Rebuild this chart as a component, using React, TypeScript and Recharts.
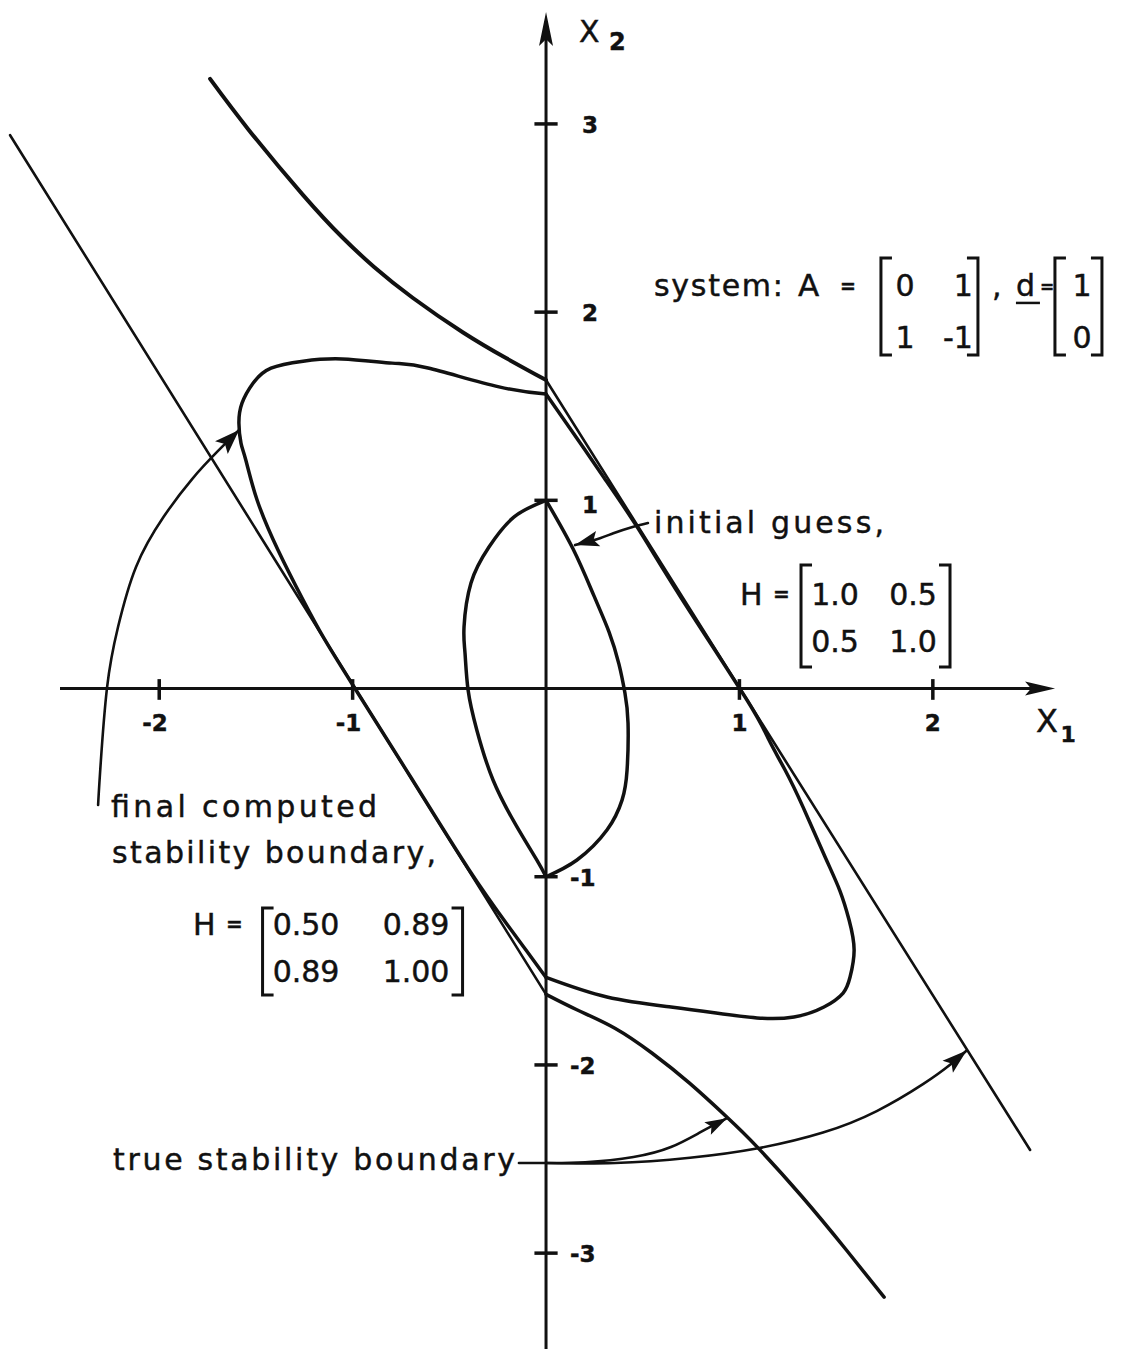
import React from 'react';
import { ScatterChart, Scatter, XAxis, YAxis, ReferenceLine, ReferenceDot } from 'recharts';

type Pt = { x: number; y: number };

// ---- true stability boundary (two straight pieces + two curved pieces) ----
const trueUpperCurve: Pt[] = [
  { x: -1.737, y: 3.239 },
  { x: -1.536, y: 2.967 },
  { x: -1.256, y: 2.622 },
  { x: -1.055, y: 2.399 },
  { x: -0.889, y: 2.24 },
  { x: -0.688, y: 2.075 },
  { x: -0.429, y: 1.892 },
  { x: -0.207, y: 1.756 },
  { x: 0, y: 1.639 },
];
const trueUpperLine: Pt[] = [
  { x: 0, y: 1.639 },
  { x: 2.503, y: -2.452 },
];
const trueLowerLine: Pt[] = [
  { x: -2.771, y: 2.94 },
  { x: 0, y: -1.625 },
];
const trueLowerCurve: Pt[] = [
  { x: 0, y: -1.625 },
  { x: 0.162, y: -1.708 },
  { x: 0.356, y: -1.805 },
  { x: 0.549, y: -1.938 },
  { x: 0.742, y: -2.097 },
  { x: 0.936, y: -2.278 },
  { x: 1.09, y: -2.434 },
  { x: 1.323, y: -2.699 },
  { x: 1.555, y: -2.986 },
  { x: 1.748, y: -3.234 },
];

// ---- final computed boundary, H = [0.50 0.89; 0.89 1.00] ----
const finalLeft: Pt[] = [
  { x: 0, y: 1.565 },
  { x: -0.243, y: 1.603 },
  { x: -0.61, y: 1.703 },
  { x: -0.796, y: 1.729 },
  { x: -1.055, y: 1.751 },
  { x: -1.256, y: 1.739 },
  { x: -1.422, y: 1.702 },
  { x: -1.515, y: 1.622 },
  { x: -1.572, y: 1.516 },
  { x: -1.588, y: 1.41 },
  { x: -1.577, y: 1.303 },
  { x: -1.552, y: 1.213 },
  { x: -1.494, y: 1.002 },
  { x: -1.386, y: 0.736 },
  { x: -1.256, y: 0.47 },
  { x: -1.15, y: 0.27 },
  { x: -1.0, y: 0.02 },
  { x: -0.7, y: -0.47 },
  { x: -0.4, y: -0.96 },
  { x: -0.2, y: -1.255 },
  { x: -0.1, y: -1.395 },
  { x: 0, y: -1.535 },
];
const finalRight: Pt[] = [
  { x: 0, y: -1.535 },
  { x: 0.315, y: -1.639 },
  { x: 0.646, y: -1.692 },
  { x: 0.879, y: -1.724 },
  { x: 1.091, y: -1.75 },
  { x: 1.282, y: -1.745 },
  { x: 1.437, y: -1.692 },
  { x: 1.536, y: -1.618 },
  { x: 1.572, y: -1.533 },
  { x: 1.593, y: -1.389 },
  { x: 1.567, y: -1.23 },
  { x: 1.52, y: -1.076 },
  { x: 1.443, y: -0.895 },
  { x: 1.329, y: -0.63 },
  { x: 1.236, y: -0.433 },
  { x: 1.153, y: -0.274 },
  { x: 1.039, y: -0.061 },
  { x: 0.7, y: 0.48 },
  { x: 0.47, y: 0.86 },
  { x: 0.3, y: 1.12 },
  { x: 0.2, y: 1.27 },
  { x: 0.1, y: 1.417 },
  { x: 0, y: 1.565 },
];

// ---- initial guess, H = [1.0 0.5; 0.5 1.0] ----
const guessLeft: Pt[] = [
  { x: 0, y: 1.0 },
  { x: -0.165, y: 0.912 },
  { x: -0.295, y: 0.752 },
  { x: -0.388, y: 0.561 },
  { x: -0.424, y: 0.327 },
  { x: -0.419, y: 0.189 },
  { x: -0.403, y: -0.008 },
  { x: -0.358, y: -0.22 },
  { x: -0.274, y: -0.486 },
  { x: -0.151, y: -0.734 },
  { x: -0.048, y: -0.911 },
  { x: 0, y: -1.0 },
];
const guessRight: Pt[] = [
  { x: 0, y: -1.0 },
  { x: 0.16, y: -0.911 },
  { x: 0.315, y: -0.752 },
  { x: 0.393, y: -0.593 },
  { x: 0.419, y: -0.433 },
  { x: 0.424, y: -0.183 },
  { x: 0.408, y: -0.024 },
  { x: 0.377, y: 0.13 },
  { x: 0.326, y: 0.3 },
  { x: 0.248, y: 0.492 },
  { x: 0.14, y: 0.741 },
  { x: 0, y: 1.0 },
];

// ---- leader arrows from the notes ----
const finalArrow: Pt[] = [
  { x: -2.316, y: -0.619 },
  { x: -2.306, y: -0.449 },
  { x: -2.27, y: 0.003 },
  { x: -2.213, y: 0.327 },
  { x: -2.12, y: 0.646 },
  { x: -1.978, y: 0.911 },
  { x: -1.83, y: 1.113 },
  { x: -1.701, y: 1.257 },
  { x: -1.587, y: 1.374 },
];
const guessArrow: Pt[] = [
  { x: 0.527, y: 0.879 },
  { x: 0.443, y: 0.857 },
  { x: 0.348, y: 0.825 },
  { x: 0.279, y: 0.799 },
  { x: 0.15, y: 0.762 },
];
const trueStub: Pt[] = [
  { x: -0.14, y: -2.521 },
  { x: 0, y: -2.521 },
];
const trueArrowNear: Pt[] = [
  { x: 0, y: -2.521 },
  { x: 0.202, y: -2.517 },
  { x: 0.452, y: -2.489 },
  { x: 0.646, y: -2.436 },
  { x: 0.801, y: -2.356 },
  { x: 0.936, y: -2.283 },
];
const trueArrowFar: Pt[] = [
  { x: 0, y: -2.521 },
  { x: 0.357, y: -2.521 },
  { x: 0.744, y: -2.493 },
  { x: 1.089, y: -2.444 },
  { x: 1.432, y: -2.359 },
  { x: 1.71, y: -2.245 },
  { x: 1.949, y: -2.102 },
  { x: 2.089, y: -1.999 },
  { x: 2.175, y: -1.923 },
];

// ---- axes, ticks ----
const xAxisSpan = [-2.513, 2.632];
const yAxisSpan = [-3.51, 3.595];
const xTicks = [-2, -1, 1, 2];
const yTicks = [-3, -2, -1, 1, 2, 3];

// ---- matrices in the notes ----
const matA = [
  ['0', '1'],
  ['1', '-1'],
];
const vecD = ['1', '0'];
const hGuess = [
  ['1.0', '0.5'],
  ['0.5', '1.0'],
];
const hFinal = [
  ['0.50', '0.89'],
  ['0.89', '1.00'],
];

// ---- layout ----
const W = 1127;
const H = 1352;
const X_DOMAIN: [number, number] = [-2.8, 2.9];
const Y_DOMAIN: [number, number] = [-3.52, 3.6];
const MARGIN = { top: 11, right: 20.1, bottom: 1, left: 4.5 };
const SX = (W - MARGIN.left - MARGIN.right) / (X_DOMAIN[1] - X_DOMAIN[0]);
const SY = (H - MARGIN.top - MARGIN.bottom) / (Y_DOMAIN[1] - Y_DOMAIN[0]);

const INK = '#111';
const FONT = '"DejaVu Sans", "Liberation Sans", sans-serif';

const anchors = {
  system: { x: 0.558, y: 2.086 },
  guessText: { x: 0.558, y: 0.826 },
  guessH: { x: 1.003, y: 0.444 },
  finalText: { x: -2.249, y: -0.683 },
  finalH: { x: -1.825, y: -1.31 },
  trueText: { x: -2.239, y: -2.558 },
};

const noDot = () => <g />;

const curve = (key: string, data: Pt[], width: number, joint: 'natural' | 'linear' = 'natural') => (
  <Scatter
    key={key}
    data={data}
    fill={INK}
    line={{ stroke: INK, strokeWidth: width, strokeLinecap: 'round', strokeLinejoin: 'round' }}
    lineJointType={joint}
    shape={noDot}
    isAnimationActive={false}
  />
);

// filled arrowhead at the last point of a path, pointing along its last segment
const head = (key: string, pts: Pt[], len = 24, half = 8) => {
  const tip = pts[pts.length - 1];
  const from = pts[pts.length - 2];
  const ang = (Math.atan2(-(tip.y - from.y) * SY, (tip.x - from.x) * SX) * 180) / Math.PI;
  return (
    <ReferenceDot
      key={key}
      x={tip.x}
      y={tip.y}
      r={0}
      ifOverflow="visible"
      shape={(p: any) => (
        <polygon
          points={`0,0 ${-len},${-half} ${-len * 0.8},0 ${-len},${half}`}
          transform={`translate(${p.cx},${p.cy}) rotate(${ang})`}
          fill={INK}
        />
      )}
    />
  );
};

// lettering: regular weight with a hairline outline so strokes read a bit heavier
const txt = (x: number, y: number, s: string, size = 30, extra: any = {}) => (
  <text x={x} y={y} fontFamily={FONT} fontSize={size} fill={INK} stroke={INK} strokeWidth={0.45} {...extra}>
    {s}
  </text>
);

const bracket = (x: number, top: number, bottom: number, dir: 1 | -1) => (
  <path
    d={`M${x + dir * 11},${top} H${x} V${bottom} H${x + dir * 11}`}
    fill="none"
    stroke={INK}
    strokeWidth={3}
  />
);

const note = (key: string, at: Pt, content: React.ReactNode) => (
  <ReferenceDot
    key={key}
    x={at.x}
    y={at.y}
    r={0}
    ifOverflow="visible"
    shape={(p: any) => <g transform={`translate(${p.cx},${p.cy})`}>{content}</g>}
  />
);

const eq = (x: number, size: number, dy = -4) => txt(x, dy, '=', size, { fontWeight: 700 });

const systemNote = (
  <g>
    {txt(0, 0, 'system:', 30, { textLength: 129, lengthAdjust: 'spacing' })}
    {txt(144, 0, 'A', 31)}
    {eq(186, 19, -3)}
    {bracket(227, -38, 59, 1)}
    {bracket(324, -38, 59, -1)}
    {matA.map((row, i) => (
      <g key={i}>
        {txt(251, i * 52, row[0], 30, { textAnchor: 'middle' })}
        {txt(319, i * 52, row[1], 30, { textAnchor: 'end' })}
      </g>
    ))}
    {txt(338, 0, ',', 30)}
    {txt(362, 0, 'd', 30)}
    <line x1={362} x2={386} y1={7} y2={7} stroke={INK} strokeWidth={2.5} />
    {eq(386, 17, -3)}
    {bracket(401, -38, 59, 1)}
    {bracket(448, -38, 59, -1)}
    {vecD.map((v, i) => txt(428, i * 52, v, 30, { key: i, textAnchor: 'middle' }))}
  </g>
);

const hMatrix = (rows: string[][], cols: number[], left: number, right: number, top: number, bottom: number) => (
  <g>
    {txt(0, 0, 'H', 30)}
    {eq(33, 20)}
    {bracket(left, top, bottom, 1)}
    {bracket(right, top, bottom, -1)}
    {rows.map((row, i) =>
      row.map((v, j) => txt(cols[j], i * 47, v, 30, { key: `${i}-${j}`, textAnchor: 'middle' }))
    )}
  </g>
);

export default function App() {
  return (
    <div style={{ position: 'absolute', left: 0, top: 0, width: W, height: H, background: '#fff' }}>
      <ScatterChart width={W} height={H} margin={MARGIN}>
        <XAxis type="number" dataKey="x" domain={X_DOMAIN} hide allowDataOverflow />
        <YAxis type="number" dataKey="y" domain={Y_DOMAIN} hide allowDataOverflow />

        {/* axes through the origin */}
        <ReferenceLine
          segment={[{ x: xAxisSpan[0], y: 0 }, { x: xAxisSpan[1] - 0.05, y: 0 }]}
          stroke={INK}
          strokeWidth={3}
          ifOverflow="visible"
        />
        <ReferenceLine
          segment={[{ x: 0, y: yAxisSpan[0] }, { x: 0, y: yAxisSpan[1] - 0.05 }]}
          stroke={INK}
          strokeWidth={3}
          ifOverflow="visible"
        />
        {xTicks.map((v) => (
          <ReferenceLine
            key={`xt${v}`}
            segment={[{ x: v, y: 0.05 }, { x: v, y: -0.06 }]}
            stroke={INK}
            strokeWidth={3.5}
            ifOverflow="visible"
          />
        ))}
        {yTicks.map((v) => (
          <ReferenceLine
            key={`yt${v}`}
            segment={[{ x: -0.06, y: v }, { x: 0.06, y: v }]}
            stroke={INK}
            strokeWidth={3.5}
            ifOverflow="visible"
          />
        ))}

        {/* true stability boundary */}
        {curve('tuc', trueUpperCurve, 4)}
        {curve('tul', trueUpperLine, 2.6, 'linear')}
        {curve('tll', trueLowerLine, 2.6, 'linear')}
        {curve('tlc', trueLowerCurve, 3.5)}

        {/* final computed boundary */}
        {curve('fl', finalLeft, 3.5)}
        {curve('fr', finalRight, 3.5)}

        {/* initial guess */}
        {curve('gl', guessLeft, 3.5)}
        {curve('gr', guessRight, 3.5)}

        {/* leaders */}
        {curve('fa', finalArrow, 2.6)}
        {curve('ga', guessArrow, 2.6)}
        {curve('ts', trueStub, 2.6, 'linear')}
        {curve('tan', trueArrowNear, 2.6)}
        {curve('taf', trueArrowFar, 2.6)}
        {head('hfa', finalArrow, 25, 9)}
        {head('hga', guessArrow, 24, 8)}
        {head('htn', trueArrowNear, 22, 7)}
        {head('htf', trueArrowFar, 25, 8)}
        {head('hx', [{ x: 0, y: 0 }, { x: xAxisSpan[1], y: 0 }], 30, 7)}
        {head('hy', [{ x: 0, y: 0 }, { x: 0, y: yAxisSpan[1] }], 34, 7)}

        {/* tick labels */}
        {xTicks.map((v) =>
          note(
            `xl${v}`,
            { x: v, y: 0 },
            txt(v < 0 ? -17 : 0, 42.5, String(v), 23, {
              fontWeight: 700,
              textAnchor: v < 0 ? 'start' : 'middle',
            })
          )
        )}
        {yTicks.map((v) =>
          note(`yl${v}`, { x: 0, y: v }, txt(v < 0 ? 24 : 36, v === 1 ? 13 : 9, String(v), 23, { fontWeight: 700 }))
        )}

        {/* axis names */}
        {note(
          'x1',
          { x: xAxisSpan[1], y: 0 },
          <g>
            {txt(-19, 43.5, 'X', 32)}
            {txt(13, 53.5, '1', 22, { textAnchor: 'middle', fontWeight: 700 })}
          </g>
        )}
        {note(
          'x2',
          { x: 0, y: yAxisSpan[1] },
          <g>
            {txt(33, 30, 'X', 30)}
            {txt(63, 38, '2', 24, { fontWeight: 700 })}
          </g>
        )}

        {/* notes */}
        {note('sys', anchors.system, systemNote)}
        {note('gtx', anchors.guessText, txt(0, 0, 'initial guess,', 30, { textLength: 230, lengthAdjust: 'spacing' }))}
        {note('gh', anchors.guessH, hMatrix(hGuess, [95, 173], 61, 210, -40, 62))}
        {note(
          'ftx',
          anchors.finalText,
          <g>
            {txt(0, 0, 'final computed', 30, { textLength: 266, lengthAdjust: 'spacing' })}
            {txt(1, 46, 'stability boundary,', 30, { textLength: 324, lengthAdjust: 'spacing' })}
          </g>
        )}
        {note('fh', anchors.finalH, hMatrix(hFinal, [113, 223], 69.5, 269.5, -27, 60))}
        {note(
          'ttx',
          anchors.trueText,
          txt(0, 0, 'true stability boundary', 30, { textLength: 402, lengthAdjust: 'spacing' })
        )}
      </ScatterChart>
    </div>
  );
}
